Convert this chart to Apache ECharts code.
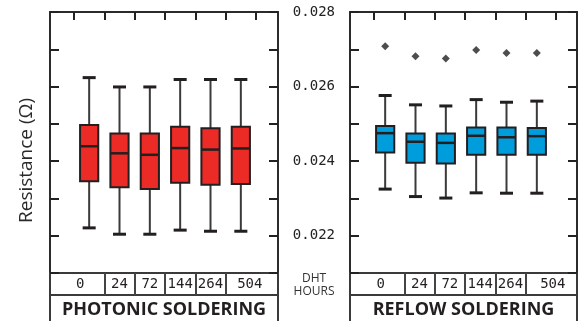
<!DOCTYPE html>
<html>
<head>
<meta charset="utf-8">
<script src="https://cdn.jsdelivr.net/npm/echarts@6/dist/echarts.min.js"></script>
<style>
    html, body { margin: 0; padding: 0; background: #fff; }
    #resistance-chart { width: 584px; height: 321px; }
</style>
</head>
<body>
<div id="resistance-chart"></div>
<script>
// DHT hours (x categories) and the labelled resistance ticks
var hours = ['0', '24', '72', '144', '264', '504'];
var yLabelValues = [0.022, 0.024, 0.026, 0.028];

// photonic soldering boxes (ohm)
var photonicLow    = [0.02221, 0.02204, 0.02204, 0.02215, 0.02212, 0.02212];
var photonicQ1     = [0.02346, 0.02330, 0.02325, 0.02342, 0.02337, 0.02339];
var photonicMedian = [0.02440, 0.02421, 0.02417, 0.02435, 0.02431, 0.02434];
var photonicQ3     = [0.02497, 0.02474, 0.02474, 0.02492, 0.02488, 0.02492];
var photonicHigh   = [0.02624, 0.02599, 0.02599, 0.02619, 0.02619, 0.02619];

// reflow soldering boxes (ohm)
var reflowLow      = [0.02325, 0.02305, 0.02301, 0.02315, 0.02314, 0.02314];
var reflowQ1       = [0.02423, 0.02396, 0.02394, 0.02417, 0.02417, 0.02417];
var reflowMedian   = [0.02475, 0.02452, 0.02449, 0.02468, 0.02464, 0.02467];
var reflowQ3       = [0.02494, 0.02474, 0.02474, 0.02490, 0.02490, 0.02489];
var reflowHigh     = [0.02576, 0.02551, 0.02548, 0.02565, 0.02558, 0.02561];
var reflowOutliers = [0.02708, 0.02681, 0.02675, 0.02698, 0.02690, 0.02690];

var Y_MIN = 0.021, Y_MAX = 0.028;
var INK = '#231f20';

var chart = echarts.init(document.getElementById('resistance-chart'));

var option = {
    animation: false,
    backgroundColor: '#fff',
    grid: [],
    xAxis: [],
    yAxis: [],
    series: [],
    title: []
};

function addGrid(box) {
    option.grid.push(Object.assign({ containLabel: false, outerBoundsMode: 'none' }, box));
    return option.grid.length - 1;
}

function hiddenAxes(g) {
    option.xAxis.push({ gridIndex: g, type: 'value', show: false });
    option.yAxis.push({ gridIndex: g, type: 'value', show: false });
}

function renderBox(params, api) {
    var idx = api.value(0);
    var low = api.coord([idx, api.value(1)]);
    var q1 = api.coord([idx, api.value(2)]);
    var med = api.coord([idx, api.value(3)]);
    var q3 = api.coord([idx, api.value(4)]);
    var high = api.coord([idx, api.value(5)]);
    var band = api.size([1, 0])[0];
    var boxW = band * 0.6;
    var capW = band * 0.43;
    var x = low[0];
    return {
        type: 'group',
        children: [
            { type: 'line', shape: { x1: x, y1: high[1], x2: x, y2: low[1] }, style: { stroke: '#3a3a3a', lineWidth: 2 } },
            { type: 'line', shape: { x1: x - capW / 2, y1: high[1], x2: x + capW / 2, y2: high[1] }, style: { stroke: INK, lineWidth: 3 } },
            { type: 'line', shape: { x1: x - capW / 2, y1: low[1], x2: x + capW / 2, y2: low[1] }, style: { stroke: INK, lineWidth: 3 } },
            { type: 'rect', shape: { x: x - boxW / 2, y: q3[1], width: boxW, height: q1[1] - q3[1] },
              style: { fill: api.visual('color'), stroke: INK, lineWidth: 2 } },
            { type: 'line', shape: { x1: x - boxW / 2, y1: med[1], x2: x + boxW / 2, y2: med[1] }, style: { stroke: INK, lineWidth: 2.5 } }
        ]
    };
}

function yFrameAxis(g, position) {
    return {
        gridIndex: g, type: 'value', position: position,
        min: Y_MIN, max: Y_MAX, interval: 0.001,
        axisLine: { show: false },
        axisTick: { show: true, inside: true, length: 9, lineStyle: { color: '#222', width: 2 } },
        axisLabel: { show: false },
        splitLine: { show: false }
    };
}

function addPanel(p) {
    // plot frame with inward ticks on both sides
    var f = addGrid({ left: p.frameLeft, top: 12, width: p.frameWidth, height: 261,
        show: true, borderColor: '#2b2b2b', borderWidth: 2, backgroundColor: 'transparent' });
    option.xAxis.push({ gridIndex: f, type: 'value', show: false });
    var left = yFrameAxis(f, 'left');
    if (p.yName) {
        left.name = p.yName;
        left.nameLocation = 'middle';
        left.nameGap = 14;
        left.nameTextStyle = { fontFamily: 'Open Sans', fontSize: 19, color: '#2a2a2a', padding: [0, 36, 0, 0] };
    }
    if (p.showValues) {
        left.axisLabel = {
            show: true, margin: 15,
            fontFamily: 'DejaVu Sans Mono', fontSize: 14, color: '#222',
            formatter: function (v) {
                for (var i = 0; i < yLabelValues.length; i++) {
                    if (Math.abs(v - yLabelValues[i]) < 1e-9) return v.toFixed(3);
                }
                return '';
            }
        };
    }
    option.yAxis.push(left);
    option.yAxis.push(yFrameAxis(f, 'right'));

    // data area
    var d = addGrid({ left: p.dataLeft, top: 12, width: 182, height: 261 });
    var xi = option.xAxis.length;
    option.xAxis.push({ gridIndex: d, type: 'category', data: hours, show: false });
    var yi = option.yAxis.length;
    option.yAxis.push({ gridIndex: d, type: 'value', min: Y_MIN, max: Y_MAX, show: false });
    option.series.push({
        type: 'custom',
        xAxisIndex: xi, yAxisIndex: yi,
        itemStyle: { color: p.color },
        renderItem: renderBox,
        data: hours.map(function (h, i) {
            return [i, p.low[i], p.q1[i], p.median[i], p.q3[i], p.high[i]];
        })
    });
    if (p.outliers) {
        option.series.push({
            type: 'scatter',
            xAxisIndex: xi, yAxisIndex: yi,
            symbol: 'diamond', symbolSize: 8,
            itemStyle: { color: INK },
            data: p.outliers.map(function (v, i) { return [i, v]; })
        });
    }

    // hours row: dividers + labels, and the top ticks of the frame
    var t = addGrid({ left: p.tickLeft, top: 273, width: 182, height: 22 });
    option.xAxis.push({
        gridIndex: t, type: 'category', data: hours, position: 'bottom',
        axisLine: { show: false },
        axisTick: { show: false },
        splitLine: { show: true, showMinLine: false, showMaxLine: false, lineStyle: { color: '#444', width: 2 } },
        axisLabel: {
            inside: true, margin: 4, interval: 0,
            fontFamily: 'DejaVu Sans Mono', fontSize: 14, color: INK,
            formatter: function (v, i) {
                if (i === 0) return '{first|' + v + '}';
                if (i === hours.length - 1) return '{last|' + v + '}';
                return '{mid|' + v + '}';
            },
            rich: {
                first: { fontFamily: 'DejaVu Sans Mono', fontSize: 14, color: INK, padding: [0, p.firstPad, 0, 0] },
                last: { fontFamily: 'DejaVu Sans Mono', fontSize: 14, color: INK, padding: [0, 0, 0, p.lastPad] },
                mid: { fontFamily: 'DejaVu Sans Mono', fontSize: 14, color: INK }
            }
        }
    });
    option.xAxis.push({
        gridIndex: t, type: 'category', data: hours, position: 'top', offset: 261,
        axisLine: { show: false },
        axisTick: { show: true, inside: true, length: 8, lineStyle: { color: '#222', width: 2 } },
        axisLabel: { show: false },
        splitLine: { show: false }
    });
    option.yAxis.push({ gridIndex: t, type: 'value', show: false });

    // row box and title box
    var r = addGrid({ left: p.frameLeft, top: 273, width: p.frameWidth, height: 22,
        show: true, borderColor: '#3a3a3a', borderWidth: 2, backgroundColor: 'transparent' });
    hiddenAxes(r);
    var s = addGrid({ left: p.frameLeft, top: 295, width: p.frameWidth, height: 40,
        show: true, borderColor: '#3a3a3a', borderWidth: 2, backgroundColor: 'transparent' });
    hiddenAxes(s);

    option.title.push({
        text: p.title, left: p.frameLeft + p.frameWidth / 2, top: 301, textAlign: 'center', padding: 0,
        textStyle: { fontFamily: 'Open Sans', fontWeight: 'bold', fontSize: 18, color: INK }
    });
}

addPanel({
    frameLeft: 50, frameWidth: 228, tickLeft: 74, dataLeft: 74,
    color: '#ec2a26', yName: 'Resistance (Ω)', showValues: false,
    low: photonicLow, q1: photonicQ1, median: photonicMedian, q3: photonicQ3, high: photonicHigh,
    firstPad: 18, lastPad: 18,
    title: 'PHOTONIC SOLDERING'
});

addPanel({
    frameLeft: 350, frameWidth: 227, tickLeft: 374, dataLeft: 370,
    color: '#009ddc', showValues: true,
    low: reflowLow, q1: reflowQ1, median: reflowMedian, q3: reflowQ3, high: reflowHigh,
    outliers: reflowOutliers,
    firstPad: 17, lastPad: 24,
    title: 'REFLOW SOLDERING'
});

option.title.push({
    text: 'DHT\nHOURS', left: 314, top: 272, textAlign: 'center', padding: 0,
    textStyle: { fontFamily: 'Open Sans', fontWeight: 'normal', fontSize: 12, lineHeight: 13, color: '#333' }
});

chart.setOption(option);
</script>
</body>
</html>
